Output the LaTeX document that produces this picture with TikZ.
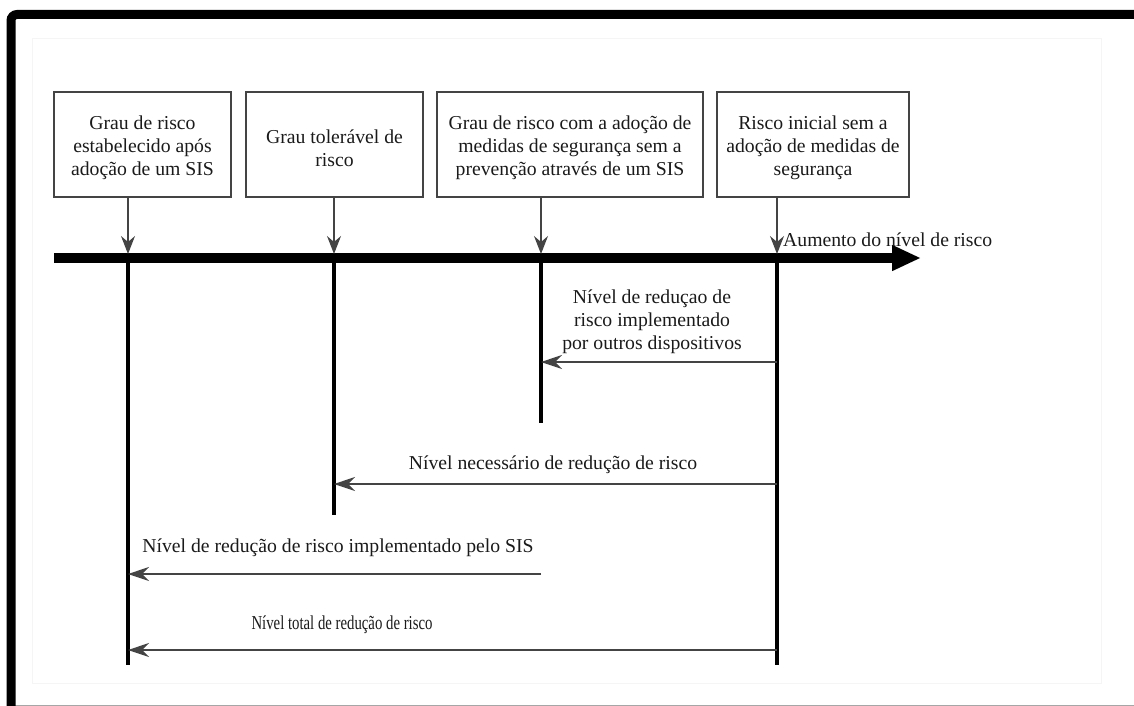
\documentclass[tikz,border=0pt]{standalone}
\usepackage{fontspec}
\usepackage{graphicx}
\setmainfont{Liberation Serif}
\usetikzlibrary{arrows.meta}
\definecolor{ink}{HTML}{1A1A1A}
\definecolor{rule}{HTML}{444444}
\begin{document}
\begin{tikzpicture}[x=1pt,y=-1pt,
  txt/.style={text=ink, font=\fontsize{19.7}{23}\selectfont, align=center, inner sep=0pt},
  box/.style={draw=rule, line width=1.3pt, minimum height=105pt, inner sep=0pt},
  drop/.style={draw=rule, line width=1.2pt, -{Stealth[length=18pt,width=14pt,inset=6pt]}},
  reduce/.style={draw=rule, line width=1.3pt, -{Stealth[length=21pt,width=14pt,inset=7pt]}},
  stem/.style={draw=black, line width=3.3pt},
  axisline/.style={draw=black, line width=10pt, -{Triangle[length=29pt,width=24pt]}}
]
\useasboundingbox (0,0) rectangle (1134,706);

% outer frame and faint inner sheet
\draw[gray!8, line width=1pt] (32,39) rectangle (1101,683);
\draw[gray!70, line width=1pt] (11,705.5) -- (1134,705.5);
\draw[black, line width=9pt, rounded corners=6pt] (11,710) -- (11,14.5) -- (1140,14.5);

% the four risk levels: frames, then their captions
\node[box, minimum width=177pt] (b1) at (142.5,144.5) {};
\node[box, minimum width=177pt] (b2) at (334.5,144.5) {};
\node[box, minimum width=266pt] (b3) at (570,144.5) {};
\node[box, minimum width=192pt] (b4) at (813,144.5) {};
\node[txt, yshift=-3pt] (b1t) at (b1.center)
  {Grau de risco\\estabelecido após\\adoção de um SIS};
\node[txt, yshift=-4pt] (b2t) at (b2.center)
  {Grau tolerável de\\risco};
\node[txt, yshift=-3pt] (b3t) at (b3.center)
  {Grau de risco com a adoção de\\medidas de segurança sem a\\prevenção através de um SIS};
\node[txt, yshift=-3pt] (b4t) at (b4.center)
  {Risco inicial sem a\\adoção de medidas de\\segurança};

% risk axis
\coordinate (axL) at (54,258);
\coordinate (axR) at (921,258);
\draw[axisline] (axL) -- (axR);
\node[txt, anchor=west] (axlbl) at (783,240) {Aumento do nível de risco};

% positions on the axis and the ends of the level lines
\coordinate (v1) at (128,258);
\coordinate (v2) at (334,258);
\coordinate (v3) at (541,258);
\coordinate (v4) at (777,258);
\coordinate (e1) at (128,665);
\coordinate (e2) at (334,515);
\coordinate (e3) at (541,423);
\coordinate (e4) at (777,665);

\draw[drop] (b1.south -| v1) -- ([yshift=4pt]v1);
\draw[drop] (b2.south -| v2) -- ([yshift=4pt]v2);
\draw[drop] (b3.south -| v3) -- ([yshift=4pt]v3);
\draw[drop] (b4.south -| v4) -- ([yshift=4pt]v4);

\draw[stem] (v1) -- (e1);
\draw[stem] (v2) -- (e2);
\draw[stem] (v3) -- (e3);
\draw[stem] (v4) -- (e4);

% reduction spans
\coordinate (r1s) at (777,362);  \coordinate (r1e) at (541,362);
\coordinate (r2s) at (777,484);  \coordinate (r2e) at (334,484);
\coordinate (r3s) at (541,574);  \coordinate (r3e) at (128,574);
\coordinate (r4s) at (777,650);  \coordinate (r4e) at (128,650);

\draw[reduce] (r1s) -- (r1e);
\draw[reduce] (r2s) -- (r2e);
\draw[reduce] (r3s) -- (r3e);
\draw[reduce] (r4s) -- (r4e);

\node[txt] (l1) at (652,322)
  {Nível de reduçao de\\risco implementado\\por outros dispositivos};
\node[txt] (l2) at (553,465) {Nível necessário de redução de risco};
\node[txt] (l3) at (338,548) {Nível de redução de risco implementado pelo SIS};
\node[txt] (l4) at (342,625) {\scalebox{0.75}[1]{Nível total de redução de risco}};
\end{tikzpicture}
\end{document}
